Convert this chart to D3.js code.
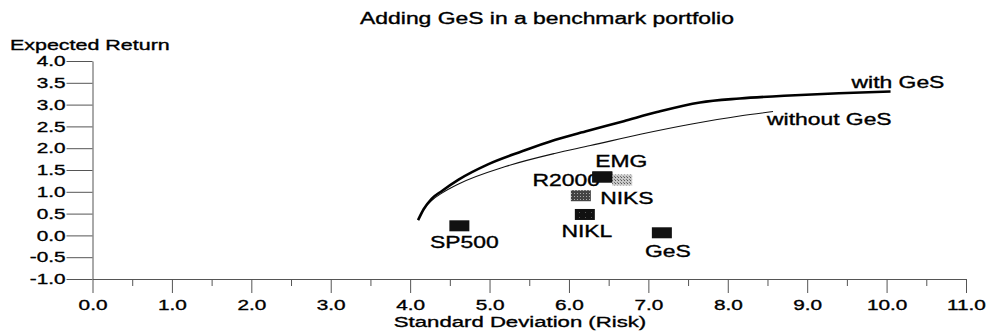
<html>
<head>
<meta charset="utf-8">
<script src="https://cdn.jsdelivr.net/npm/d3@7"></script>
<style>
body { margin: 0; background: #fff; }
text { font-family: Arial, "Liberation Sans", sans-serif; fill: #000; stroke: #000; stroke-width: 0.35px; }
</style>
</head>
<body>
<svg width="992" height="334"></svg>
<script>
// frontier curves (sd = risk, er = expected return)
var sdWith = [4.10, 4.17, 4.27, 4.40, 4.61, 4.98, 5.41, 5.82, 6.24, 6.69, 7.11, 7.65, 8.15, 8.78, 9.40, 10.05];
var erWith = [0.35, 0.60, 0.84, 1.02, 1.28, 1.63, 1.93, 2.19, 2.40, 2.62, 2.83, 3.05, 3.14, 3.21, 3.26, 3.30];
var sdWithout = [4.10, 4.17, 4.27, 4.40, 4.61, 5.20, 5.82, 6.27, 6.90, 7.53, 8.15, 8.57];
var erWithout = [0.35, 0.60, 0.80, 0.97, 1.18, 1.58, 1.88, 2.06, 2.32, 2.55, 2.74, 2.84];

// single assets
var assetNames = ["SP500", "R2000", "EMG", "NIKS", "NIKL", "GeS"];
var assetSD = [4.62, 6.15, 6.42, 6.67, 6.20, 7.17];
var assetER = [0.22, 0.91, 1.34, 1.27, 0.48, 0.06];

var xTicks = [0, 1, 2, 3, 4, 5, 6, 7, 8, 9, 10, 11];
var xMinor = [0.5, 1.5, 2.5, 3.5, 4.5, 5.5, 6.5, 7.5, 8.5, 9.5, 10.5];
var yTicks = [-1, -0.5, 0, 0.5, 1, 1.5, 2, 2.5, 3, 3.5, 4];

var svg = d3.select("svg");
var SX = 1.43; // the scan is stretched sideways

var x = d3.scaleLinear().domain([0, 11]).range([92.5, 966]);
var y = d3.scaleLinear().domain([-1, 4]).range([279, 61]);
var fmt = function(d) { return d.toFixed(1); };

function label(px, py, str, size, anchor) {
  svg.append("text")
    .attr("transform", "translate(" + px + "," + py + ") scale(" + SX + ",1)")
    .attr("text-anchor", anchor || "start")
    .style("font-size", size + "px")
    .text(str);
}

// patterns for the grey boxes
var defs = svg.append("defs");
var p1 = defs.append("pattern").attr("id", "niks").attr("width", 3).attr("height", 3)
  .attr("patternUnits", "userSpaceOnUse");
p1.append("rect").attr("width", 3).attr("height", 3).attr("fill", "#c8c8c8");
p1.append("rect").attr("width", 1).attr("height", 1).attr("fill", "#555");
p1.append("rect").attr("x", 2).attr("y", 2).attr("width", 1).attr("height", 1).attr("fill", "#777");
var p2 = defs.append("pattern").attr("id", "r2000").attr("width", 3).attr("height", 3)
  .attr("patternUnits", "userSpaceOnUse");
p2.append("rect").attr("width", 3).attr("height", 3).attr("fill", "#444");
p2.append("rect").attr("x", 1).attr("y", 1).attr("width", 1).attr("height", 1).attr("fill", "#aaa");
var p3 = defs.append("pattern").attr("id", "nikl").attr("width", 6).attr("height", 5)
  .attr("patternUnits", "userSpaceOnUse");
p3.append("rect").attr("width", 6).attr("height", 5).attr("fill", "#111");
p3.append("rect").attr("x", 3).attr("y", 2).attr("width", 1).attr("height", 1).attr("fill", "#555");

var fills = {SP500: "#111", R2000: "url(#r2000)", EMG: "#111", NIKS: "url(#niks)", NIKL: "url(#nikl)", GeS: "#111"};

/// AXES
var yAx = svg.append("g")
  .attr("transform", "translate(" + x(0) + ",0)")
  .call(d3.axisLeft(y).tickValues(yTicks).tickSize(26).tickSizeOuter(0).tickPadding(1)
    .tickFormat(fmt));
yAx.selectAll("text").attr("x", null)
  .attr("transform", "translate(-27,0) scale(" + SX + ",1)")
  .style("font-size", "14.5px").style("font-family", null);

svg.append("g")
  .attr("transform", "translate(0," + y(-1) + ")")
  .call(d3.axisBottom(x).tickValues(xMinor).tickSize(7).tickSizeOuter(0).tickFormat(""));
var xAx = svg.append("g")
  .attr("transform", "translate(0," + y(-1) + ")")
  .call(d3.axisBottom(x).tickValues(xTicks).tickSize(14).tickSizeOuter(0).tickPadding(7)
    .tickFormat(fmt));
xAx.selectAll("text").attr("transform", "scale(" + SX + ",1)")
  .style("font-size", "14.5px").style("font-family", null);

svg.selectAll(".domain, .tick line").attr("stroke", "#555");
svg.selectAll(".tick text").attr("fill", "#000");

/// CURVES
var line = d3.line().x(function(d) { return x(d[0]); }).y(function(d) { return y(d[1]); })
  .curve(d3.curveMonotoneX);
svg.append("path").datum(d3.zip(sdWithout, erWithout))
  .attr("d", line).attr("fill", "none").attr("stroke", "#111").attr("stroke-width", 1.1);
svg.append("path").datum(d3.zip(sdWith, erWith))
  .attr("d", line).attr("fill", "none").attr("stroke", "#000").attr("stroke-width", 2.6);

/// ASSET BOXES
var labelPos = {
  SP500: [5, 22, "middle"], R2000: [19, -9.5, "end"], EMG: [19, -10, "middle"],
  NIKS: [-22, 23.5, "start"], NIKL: [2, 23, "middle"], GeS: [6, 24.5, "middle"]
};
svg.append("g").selectAll("rect").data(assetNames).enter().append("rect")
  .attr("x", function(d, i) { return x(assetSD[i]) - 10; })
  .attr("y", function(d, i) { return y(assetER[i]) - 5.5; })
  .attr("width", 20).attr("height", 11)
  .attr("fill", function(d) { return fills[d]; });
assetNames.forEach(function(d, i) {
  var o = labelPos[d];
  label(x(assetSD[i]) + o[0], y(assetER[i]) + o[1], d, 16, o[2]);
});
// EMG box sits over the end of the R2000 text
svg.append("rect")
  .attr("x", x(assetSD[2]) - 10).attr("y", y(assetER[2]) - 5.5)
  .attr("width", 20).attr("height", 11).attr("fill", "#111");

/// TEXTS
var nW = sdWith.length - 1, nO = sdWithout.length - 1;
label(x(sdWith[nW]) - 39, y(erWith[nW]) - 4, "with GeS", 16);
label(x(sdWithout[nO]) - 6, y(erWithout[nO]) + 13, "without GeS", 16);

label(547, 24, "Adding GeS in a benchmark portfolio", 16, "middle");
label(10, 50, "Expected Return", 15);
label(520, 327, "Standard Deviation (Risk)", 15.5, "middle");
</script>
</body>
</html>
